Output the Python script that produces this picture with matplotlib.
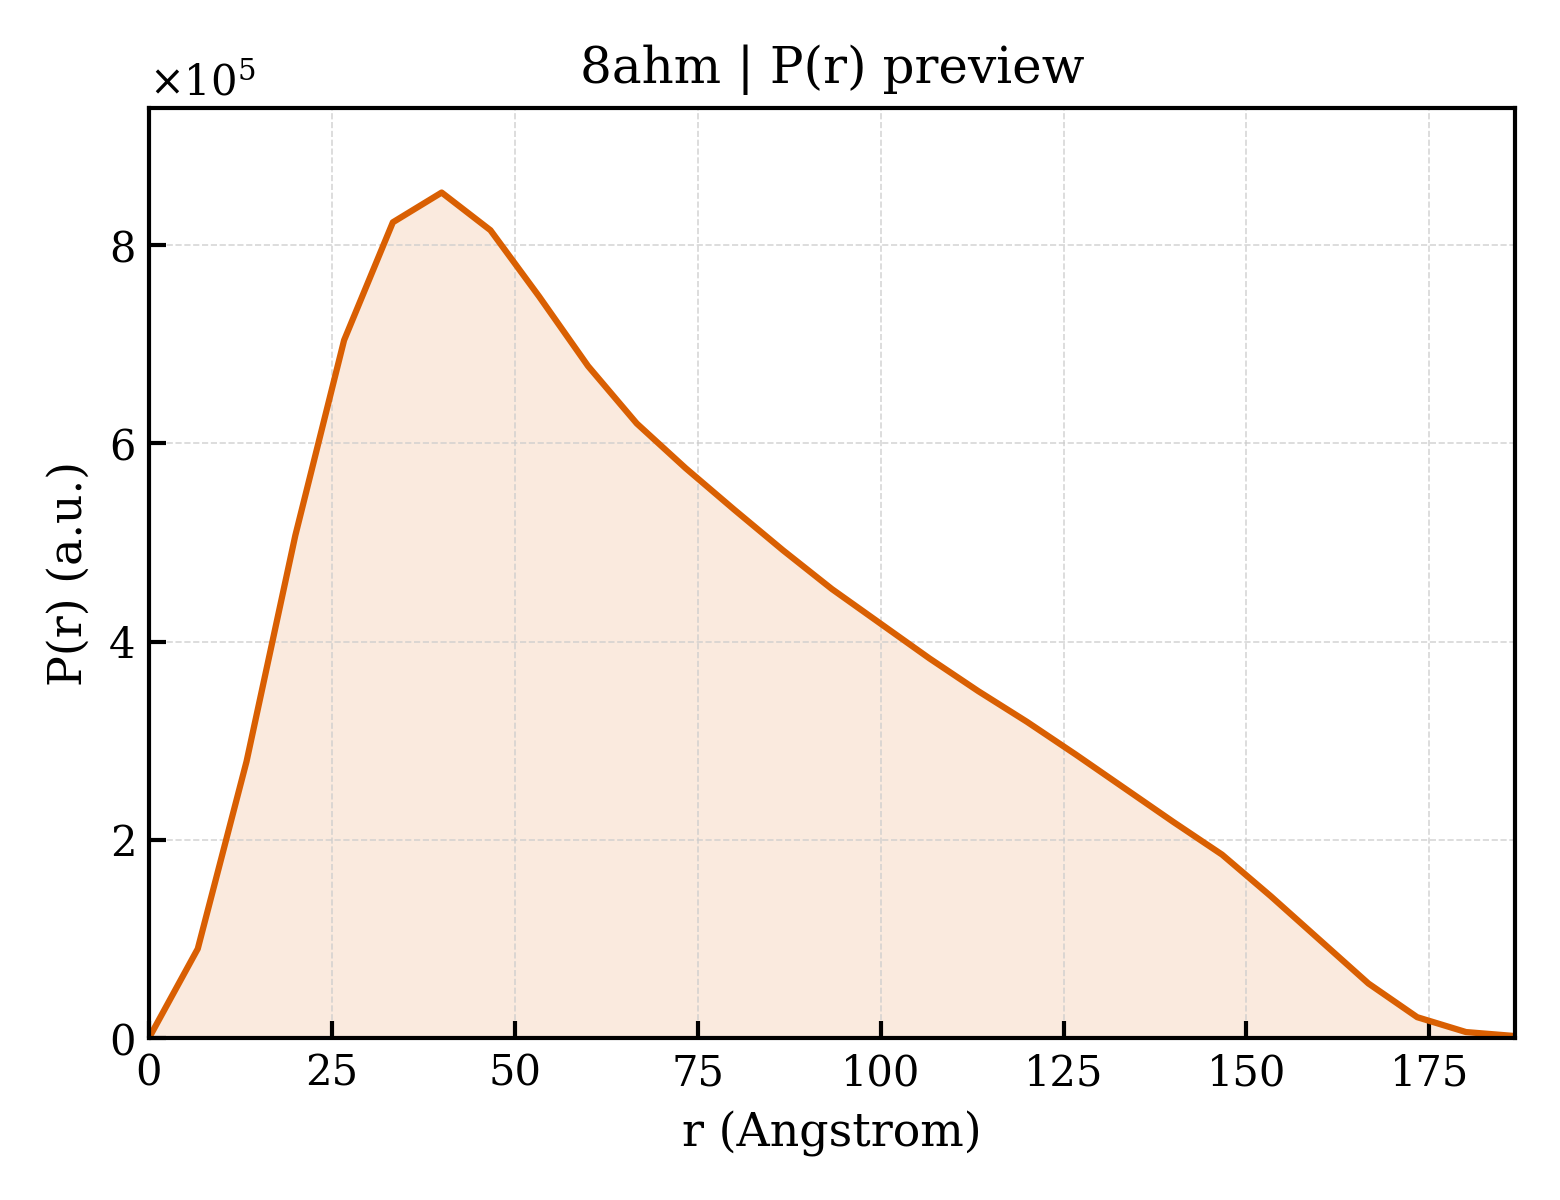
import numpy as np
import matplotlib
matplotlib.use("Agg")
import matplotlib.pyplot as plt
from matplotlib.ticker import ScalarFormatter


# P(r) preview data
pdb_id = "8ahm"
r_max = 186.67
r_values = np.linspace(0, r_max, 29)
p_values = np.array([
    0.00, 0.90, 2.79, 5.07, 7.04, 8.23, 8.53, 8.15, 7.48, 6.78,
    6.20, 5.75, 5.33, 4.92, 4.53, 4.18, 3.83, 3.50, 3.19, 2.86,
    2.52, 2.18, 1.85, 1.43, 0.99, 0.55, 0.21, 0.06, 0.02,
]) * 1e5

line_color = "#d95f02"


def main():
    plt.rcParams["font.family"] = "DejaVu Serif"
    plt.rcParams["mathtext.fontset"] = "dejavuserif"

    fig = plt.figure(figsize=(5.2, 4), dpi=300)
    ax = fig.add_subplot(111)
    fig.subplots_adjust(left=0.0955, right=0.971, bottom=0.135, top=0.91)

    ax.fill_between(r_values, p_values, color=line_color, alpha=0.13, lw=0)
    ax.plot(r_values, p_values, color=line_color, lw=1.5)

    ax.set_xlim(0, r_values.max())
    ax.set_ylim(0, p_values.max() * 1.1)

    fmt = ScalarFormatter(useMathText=True)
    fmt.set_powerlimits((0, 0))
    ax.yaxis.set_major_formatter(fmt)
    ax.yaxis.get_offset_text().set_fontsize(10)

    ax.set_title(f"{pdb_id} | P(r) preview", fontsize=12)
    ax.set_xlabel("r (Angstrom)", fontsize=11)
    ax.set_ylabel("P(r) (a.u.)", fontsize=11)

    ax.tick_params(direction="in", labelsize=10, length=4, width=1)
    ax.grid(True, ls="--", lw=0.4, color="#cccccc", alpha=0.8)
    for sp in ax.spines.values():
        sp.set_linewidth(1.0)

    fig.savefig("out.png", dpi=300)


if __name__ == "__main__":
    main()
